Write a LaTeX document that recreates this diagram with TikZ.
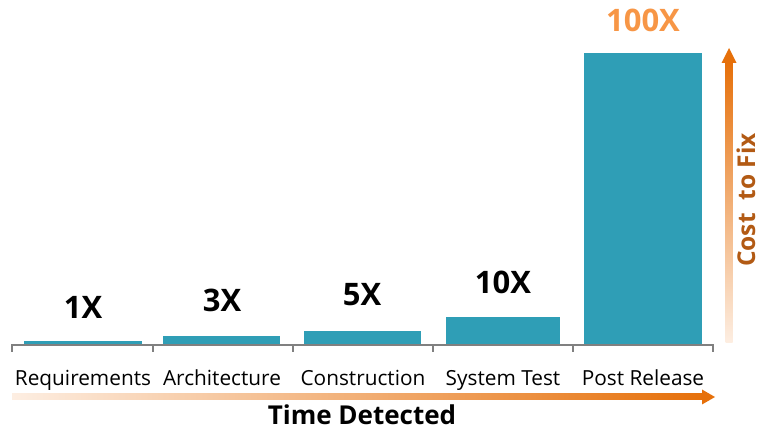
\documentclass[tikz,border=0pt]{standalone}
\usepackage{fontspec}
\setmainfont{Open Sans}
\definecolor{barc}{RGB}{47,158,182}
\definecolor{axisc}{RGB}{128,128,128}
\definecolor{orl}{RGB}{253,238,226}
\definecolor{ord}{RGB}{230,112,10}
\definecolor{lblo}{RGB}{247,150,70}
\definecolor{costc}{RGB}{178,90,20}
\tikzset{
  bar/.style={fill=barc, draw=none},
  val/.style={font=\fontsize{31}{36}\selectfont\bfseries, inner sep=0pt},
  cat/.style={font=\fontsize{20.8}{24}\selectfont, inner sep=0pt, anchor=base},
  axis/.style={draw=axisc, line width=2pt}
}
\begin{document}
\begin{tikzpicture}[x=1pt,y=-1pt]
\useasboundingbox (0,0) rectangle (761,430);
% bars
\fill[bar] (24,341) rectangle (142,345);
\fill[bar] (163,336) rectangle (280,345);
\fill[bar] (304,331) rectangle (421,345);
\fill[bar] (446,317) rectangle (560,345);
\fill[bar] (584,53) rectangle (702,345);
% axis
\draw[axis] (12,352) -- (12,345) -- (713,345) -- (713,352);
\foreach \x in {153,293,433,573} \draw[axis] (\x,345) -- (\x,352);
% value labels
\node[val] (v1) at (83,307) {1X};
\node[val] (v2) at (222,300) {3X};
\node[val] (v3) at (362,295) {5X};
\node[val] (v4) at (503,282) {10X};
\node[val, text=lblo] (v5) at (643,20) {100X};
% categories
\node[cat] (c1) at (83,386) {Requirements};
\node[cat] (c2) at (222,386) {Architecture};
\node[cat] (c3) at (363,386) {Construction};
\node[cat] (c4) at (503,386) {System Test};
\node[cat] (c5) at (643,386) {Post Release};
% horizontal arrow
\shade[left color=orl, right color=ord] (12,394) rectangle (703,400);
\fill[ord] (702,389.5) -- (715,397) -- (702,404.5) -- cycle;
\node[font=\fontsize{26}{30}\selectfont\bfseries, inner sep=0pt] (td) at (362,415) {Time Detected};
% vertical arrow
\shade[bottom color=orl, top color=ord] (725.5,343) rectangle (732.5,62);
\fill[ord] (721.5,63) -- (729,48) -- (736.5,63) -- cycle;
\node[font=\fontsize{24.5}{28}\selectfont\bfseries, text=costc, rotate=90, inner sep=0pt] (cf) at (746,200) {Cost\ \ to Fix};
\end{tikzpicture}
\end{document}
